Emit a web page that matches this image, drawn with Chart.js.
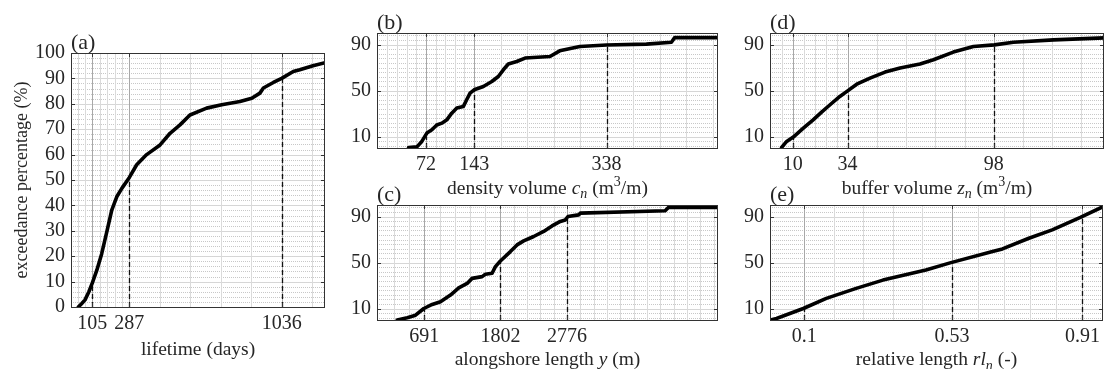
<!DOCTYPE html>
<html>
<head>
<meta charset="utf-8">
<script src="https://cdn.jsdelivr.net/npm/chart.js@4.4.1/dist/chart.umd.min.js"></script>
<style>
  html, body { margin: 0; padding: 0; background: #fff; }
  #wrap { position: relative; width: 1105px; height: 369px; }
  #wrap canvas { position: absolute; left: 0; top: 0; }
</style>
</head>
<body>
<div id="wrap">
  <canvas id="chartA" width="1105" height="369"></canvas>
  <canvas id="chartB" width="1105" height="369"></canvas>
  <canvas id="chartC" width="1105" height="369"></canvas>
  <canvas id="chartD" width="1105" height="369"></canvas>
  <canvas id="chartE" width="1105" height="369"></canvas>
</div>
<script>
// (a) lifetime
const lifetimeDays = [36, 52, 69, 88, 105, 127, 151, 176, 200, 225, 250, 287, 323, 372, 438, 487, 536, 585, 667, 741, 831, 889, 929, 946, 995, 1036, 1093, 1125, 1190, 1249];
const lifetimePct = [0, 1.3, 2.8, 6, 9.5, 14.5, 21, 29.6, 38, 43.4, 46.7, 51, 56, 60, 63.8, 68.4, 71.7, 75.6, 78.3, 79.6, 80.9, 82.2, 84.2, 86.2, 88.4, 90, 92.7, 93.4, 95, 96.2];
const lifetimeTicks = [105, 287, 1036];

// (b) density volume
const densityVolume = [46.5, 58.7, 66, 73.4, 80.8, 88, 95.5, 102.8, 110, 117.5, 127, 132, 137, 143, 156.6, 169, 178.6, 186, 193.3, 205.7, 218, 254.6, 269, 298.6, 338, 396.6, 433.4, 438.2, 482, 502];
const densityPct = [0.5, 1, 5.7, 13, 15.8, 20, 21.6, 24.5, 30.3, 34.7, 36, 42, 47.7, 50.6, 53.5, 57.8, 62.2, 68, 73, 75.2, 78.2, 79.6, 84.5, 88.3, 89.5, 90.3, 92, 96, 96, 96];
const densityTicks = [72, 143, 338];

// (c) alongshore length
const alongshoreLength = [296, 442, 563, 684, 806, 927, 1073, 1194, 1316, 1389, 1535, 1583, 1681, 1729, 1802, 1948, 2045, 2142, 2288, 2434, 2556, 2677, 2750, 2789, 2944, 2968, 4208, 4256, 4791, 4980];
const alongshorePct = [0, 2, 4.2, 10, 13.5, 15.9, 21.7, 28, 31.8, 36.2, 37.7, 39.7, 40.6, 46.4, 51.3, 59.5, 65.3, 68.8, 72.6, 77, 81.8, 85.7, 87, 90, 91.4, 92.9, 95, 97.9, 97.9, 97.9];
const alongshoreTicks = [691, 1802, 2776];

// (d) buffer volume
const bufferVolume = [5.1, 7.3, 10.2, 14.6, 18.9, 22.6, 26.3, 30.6, 34, 38, 43.8, 50.4, 57, 65.7, 71.6, 80.3, 89.1, 98.3, 106.6, 124.2, 146.3];
const bufferPct = [0.5, 5.7, 9.5, 17.3, 24.5, 31.2, 37.6, 44.8, 49.7, 55.5, 60.8, 66, 69.5, 73, 76.7, 83.4, 88.3, 89.7, 92, 94, 95.8];
const bufferTicks = [10, 34, 98];

// (e) relative length
const relLength = [0, 0.019, 0.097, 0.164, 0.251, 0.329, 0.454, 0.527, 0.648, 0.677, 0.754, 0.822, 0.904, 0.97];
const relPct = [0, 1.3, 10, 18.8, 27.5, 34.7, 43.5, 49.9, 59.5, 61.8, 71.1, 78.4, 89.2, 98.5];
const relTicks = [0.1, 0.53, 0.91];

// percentile levels marked with dashed lines, y tick labels
const pctLevels = [10, 50, 90];
const pctTicksFull = [0, 10, 20, 30, 40, 50, 60, 70, 80, 90, 100];
const pctTicksShort = [10, 50, 90];

const SERIF = "'Liberation Serif', 'DejaVu Serif', serif";
const INK = '#262626';
const W = 1105, H = 369;
const Y_AXIS_W = 56, X_AXIS_H = 40;

function minorSteps(ticks, min, max) {
    var out = [];
    var n = ticks.length;
    for (var i = 0; i < n - 1; i++) {
        var step = (ticks[i + 1] - ticks[i]) / 5;
        for (var k = 1; k < 5; k++) out.push(ticks[i] + k * step);
    }
    var s0 = (ticks[1] - ticks[0]) / 5;
    for (var v = ticks[0] - s0; v > min + s0 * 0.2; v -= s0) out.push(v);
    var s1 = (ticks[n - 1] - ticks[n - 2]) / 5;
    for (var w = ticks[n - 1] + s1; w < max - s1 * 0.2; w += s1) out.push(w);
    return out;
}

function segFont(st, size) {
    var small = st === 'sub' || st === 'sup';
    var italic = st === 'i' || st === 'sub';
    return (italic ? 'italic ' : '') + (small ? Math.round(size * 0.7) : size) + 'px ' + SERIF;
}

function drawSegments(ctx, segs, cx, y, size) {
    var total = 0;
    segs.forEach(function (s) { ctx.font = segFont(s[1], size); total += ctx.measureText(s[0]).width; });
    var x = cx - total / 2;
    segs.forEach(function (s) {
        ctx.font = segFont(s[1], size);
        var dy = s[1] === 'sub' ? size * 0.25 : (s[1] === 'sup' ? -size * 0.4 : 0);
        ctx.fillText(s[0], x, y + dy);
        x += ctx.measureText(s[0]).width;
    });
}

function decor(p) {
    return {
        id: 'decor' + p.letter,
        beforeDatasetsDraw: function (chart) {
            var ctx = chart.ctx, a = chart.chartArea, x = chart.scales.x, y = chart.scales.y;
            ctx.save();
            ctx.lineWidth = 1;
            // horizontal minor (dotted) and major grid
            ctx.strokeStyle = '#c8c8c8';
            ctx.setLineDash([1, 1]);
            for (var v = p.yMinorStart; v < 100; v += p.yMinorStep) {
                if (p.yTicks.indexOf(v) >= 0) continue;
                var py = Math.round(y.getPixelForValue(v)) + 0.5;
                ctx.beginPath(); ctx.moveTo(a.left, py); ctx.lineTo(a.right, py); ctx.stroke();
            }
            ctx.setLineDash([]);
            ctx.strokeStyle = '#d6d6d6';
            p.yTicks.forEach(function (t) {
                var py = Math.round(y.getPixelForValue(t)) + 0.5;
                ctx.beginPath(); ctx.moveTo(a.left, py); ctx.lineTo(a.right, py); ctx.stroke();
            });
            // vertical minor grid
            ctx.strokeStyle = '#dadada';
            minorSteps(p.xTicks, p.xMin, p.xMax).forEach(function (t) {
                var px = Math.round(x.getPixelForValue(t)) + 0.5;
                ctx.beginPath(); ctx.moveTo(px, a.top); ctx.lineTo(px, a.bottom); ctx.stroke();
            });
            // vertical major grid
            ctx.strokeStyle = '#a8a8a8';
            p.xTicks.forEach(function (t) {
                var px = Math.round(x.getPixelForValue(t)) + 0.5;
                ctx.beginPath(); ctx.moveTo(px, a.top); ctx.lineTo(px, a.bottom); ctx.stroke();
            });
            // dashed percentile markers
            ctx.strokeStyle = '#111';
            ctx.lineWidth = 1.3;
            ctx.setLineDash([5, 3]);
            p.xTicks.forEach(function (t, i) {
                var px = Math.round(x.getPixelForValue(t)) + 0.5;
                ctx.beginPath();
                ctx.moveTo(px, a.bottom);
                ctx.lineTo(px, y.getPixelForValue(pctLevels[i]));
                ctx.stroke();
            });
            ctx.restore();
        },
        afterDatasetsDraw: function (chart) {
            var ctx = chart.ctx, a = chart.chartArea, x = chart.scales.x, y = chart.scales.y;
            ctx.save();
            // box and inward tick marks
            ctx.strokeStyle = '#333';
            ctx.lineWidth = 1;
            ctx.strokeRect(Math.round(a.left) + 0.5, Math.round(a.top) + 0.5,
                Math.round(a.right - a.left) - 1, Math.round(a.bottom - a.top));
            ctx.beginPath();
            p.yTicks.forEach(function (t) {
                var py = Math.round(y.getPixelForValue(t)) + 0.5;
                ctx.moveTo(a.left, py); ctx.lineTo(a.left + 4, py);
                ctx.moveTo(a.right, py); ctx.lineTo(a.right - 4, py);
            });
            p.xTicks.forEach(function (t) {
                var px = Math.round(x.getPixelForValue(t)) + 0.5;
                ctx.moveTo(px, a.bottom); ctx.lineTo(px, a.bottom - 4);
                ctx.moveTo(px, a.top); ctx.lineTo(px, a.top + 4);
            });
            ctx.stroke();
            // texts
            ctx.fillStyle = INK;
            ctx.textAlign = 'left';
            ctx.textBaseline = 'alphabetic';
            ctx.font = '22px ' + SERIF;
            ctx.fillText('(' + p.letter + ')', a.left, a.top - 4);
            drawSegments(ctx, p.xTitle, (a.left + a.right) / 2, a.bottom + p.titleGap, 19.5);
            if (p.yTitle) {
                ctx.save();
                ctx.translate(27, (a.top + a.bottom) / 2);
                ctx.rotate(-Math.PI / 2);
                ctx.textAlign = 'center';
                ctx.font = '18px ' + SERIF;
                ctx.fillText(p.yTitle, 0, 0);
                ctx.restore();
            }
            ctx.restore();
        }
    };
}

function makePanel(p) {
    var pts = p.xs.map(function (v, i) { return { x: v, y: p.ys[i] }; });
    var tickFont = { family: SERIF, size: 20 };
    return new Chart(document.getElementById(p.canvas), {
        type: 'line',
        data: {
            datasets: [{
                data: pts,
                borderColor: '#000',
                borderWidth: 3.6,
                borderJoinStyle: 'round',
                borderCapStyle: 'round',
                pointRadius: 0,
                tension: 0,
                fill: false
            }]
        },
        options: {
            responsive: false,
            animation: false,
            events: [],
            layout: {
                padding: {
                    left: p.box.l - Y_AXIS_W,
                    top: p.box.t,
                    right: W - p.box.r,
                    bottom: H - p.box.b - X_AXIS_H
                }
            },
            plugins: { legend: { display: false }, tooltip: { enabled: false } },
            scales: {
                x: {
                    type: 'linear',
                    min: p.xMin,
                    max: p.xMax,
                    grid: { display: false, drawTicks: false },
                    border: { display: false },
                    afterBuildTicks: function (s) { s.ticks = p.xTicks.map(function (v) { return { value: v }; }); },
                    afterFit: function (s) { s.height = X_AXIS_H; },
                    ticks: {
                        autoSkip: false, maxRotation: 0, padding: 5, color: INK, font: tickFont,
                        callback: function (v) { return String(v); }
                    }
                },
                y: {
                    min: 0,
                    max: 100,
                    grid: { display: false, drawTicks: false },
                    border: { display: false },
                    afterBuildTicks: function (s) { s.ticks = p.yTicks.map(function (v) { return { value: v }; }); },
                    afterFit: function (s) { s.width = Y_AXIS_W; },
                    ticks: { autoSkip: false, padding: 6, color: INK, font: tickFont }
                }
            }
        },
        plugins: [decor(p)]
    });
}

makePanel({
    canvas: 'chartA', letter: 'a', box: { l: 71, t: 53, r: 325, b: 307 },
    xs: lifetimeDays, ys: lifetimePct, xMin: 0, xMax: 1249, xTicks: lifetimeTicks,
    yTicks: pctTicksFull, yMinorStart: 2, yMinorStep: 2, titleGap: 47.5,
    xTitle: [['lifetime (days)', '']], yTitle: 'exceedance percentage (%)'
});
makePanel({
    canvas: 'chartB', letter: 'b', box: { l: 377, t: 33, r: 718, b: 148 },
    xs: densityVolume, ys: densityPct, xMin: 0, xMax: 502, xTicks: densityTicks,
    yTicks: pctTicksShort, yMinorStart: 2, yMinorStep: 4, titleGap: 45.5,
    xTitle: [['density volume ', ''], ['c', 'i'], ['n', 'sub'], [' (m', ''], ['3', 'sup'], ['/m)', '']]
});
makePanel({
    canvas: 'chartC', letter: 'c', box: { l: 377, t: 205, r: 718, b: 320 },
    xs: alongshoreLength, ys: alongshorePct, xMin: 0, xMax: 4980, xTicks: alongshoreTicks,
    yTicks: pctTicksShort, yMinorStart: 2, yMinorStep: 4, titleGap: 45,
    xTitle: [['alongshore length ', ''], ['y', 'i'], [' (m)', '']]
});
makePanel({
    canvas: 'chartD', letter: 'd', box: { l: 770, t: 33, r: 1104, b: 148 },
    xs: bufferVolume, ys: bufferPct, xMin: 0, xMax: 146.3, xTicks: bufferTicks,
    yTicks: pctTicksShort, yMinorStart: 2, yMinorStep: 4, titleGap: 45.5,
    xTitle: [['buffer volume ', ''], ['z', 'i'], ['n', 'sub'], [' (m', ''], ['3', 'sup'], ['/m)', '']]
});
makePanel({
    canvas: 'chartE', letter: 'e', box: { l: 770, t: 205, r: 1104, b: 320 },
    xs: relLength, ys: relPct, xMin: 0, xMax: 0.97, xTicks: relTicks,
    yTicks: pctTicksShort, yMinorStart: 2, yMinorStep: 4, titleGap: 45,
    xTitle: [['relative length ', ''], ['rl', 'i'], ['n', 'sub'], [' (-)', '']]
});
</script>
</body>
</html>
